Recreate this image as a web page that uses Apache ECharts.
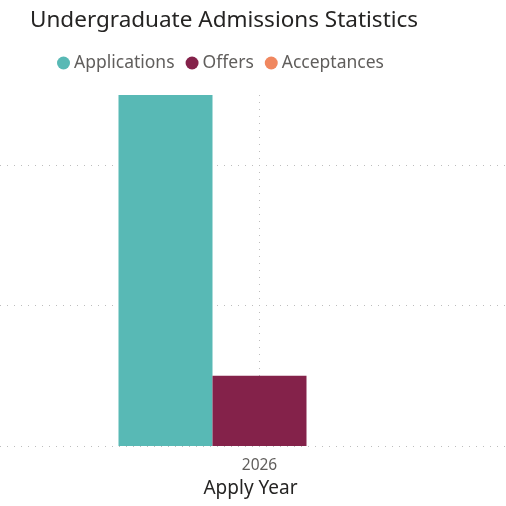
<!DOCTYPE html>
<html>
<head>
<meta charset="utf-8">
<script src="https://cdn.jsdelivr.net/npm/echarts@6/dist/echarts.min.js"></script>
<style>
  html, body { margin: 0; padding: 0; background: #fff; }
  #chart { width: 506px; height: 506px; }
</style>
</head>
<body>
<div id="chart"></div>
<script>
var years = ['2026']
var applications = [250]
var offers = [50]
var acceptances = [0]

var dotted = { color: '#bdbdbd', width: 1, type: [1, 6] }
var font = "'Noto Sans', sans-serif"

var chart = echarts.init(document.getElementById('chart'))
chart.setOption({
  animation: false,
  title: {
    text: 'Undergraduate Admissions Statistics',
    left: 25,
    top: 4,
    textStyle: { fontFamily: font, fontSize: 22.5, fontWeight: 'normal', color: '#252423' }
  },
  legend: {
    left: 52,
    top: 49,
    icon: 'circle',
    itemWidth: 13,
    itemHeight: 13,
    itemGap: 11,
    textStyle: { fontFamily: font, fontSize: 17.5, color: '#605e5c', padding: [0, 0, 0, -1] }
  },
  color: ['#58b9b5', '#84224a', '#f0875f'],
  grid: [
    { left: 13, right: 0, top: 95, bottom: 60 },
    { left: 0, right: 0, top: 95, bottom: 60 }
  ],
  xAxis: [
    {
      type: 'category',
      gridIndex: 0,
      data: years,
      axisLine: { show: false },
      axisTick: { show: false },
      axisLabel: { margin: 12, fontFamily: font, fontSize: 15.5, color: '#605e5c' },
      name: 'Apply Year',
      nameLocation: 'middle',
      nameGap: 31,
      // the axis title sits a little left of the category centre
      nameTextStyle: { fontFamily: font, fontSize: 19, color: '#252423', padding: [0, 18, 0, 0] }
    },
    {
      // only used to draw the dotted centre line of the category
      type: 'value',
      gridIndex: 0,
      min: 0,
      max: 2,
      interval: 1,
      show: true,
      axisLine: { show: false },
      axisTick: { show: false },
      axisLabel: { show: false },
      splitLine: { show: true, showMinLine: false, showMaxLine: false, lineStyle: dotted }
    },
    {
      type: 'value',
      gridIndex: 1,
      show: false
    }
  ],
  yAxis: [
    {
      type: 'value',
      gridIndex: 0,
      min: 0,
      max: 250,
      interval: 100,
      axisLabel: { show: false },
      axisLine: { show: false },
      axisTick: { show: false },
      splitLine: { show: false }
    },
    {
      type: 'value',
      gridIndex: 1,
      min: 0,
      max: 250,
      interval: 100,
      axisLabel: { show: false },
      axisLine: { show: false },
      axisTick: { show: false },
      splitLine: { show: true, showMaxLine: false, lineStyle: dotted }
    }
  ],
  series: [
    { name: 'Applications', type: 'bar', xAxisIndex: 0, yAxisIndex: 0, data: applications, barWidth: 94, barGap: '0%' },
    { name: 'Offers', type: 'bar', xAxisIndex: 0, yAxisIndex: 0, data: offers, barWidth: 94, barGap: '0%' },
    { name: 'Acceptances', type: 'bar', xAxisIndex: 0, yAxisIndex: 0, data: acceptances, barWidth: 94, barGap: '0%' }
  ]
})
</script>
</body>
</html>
